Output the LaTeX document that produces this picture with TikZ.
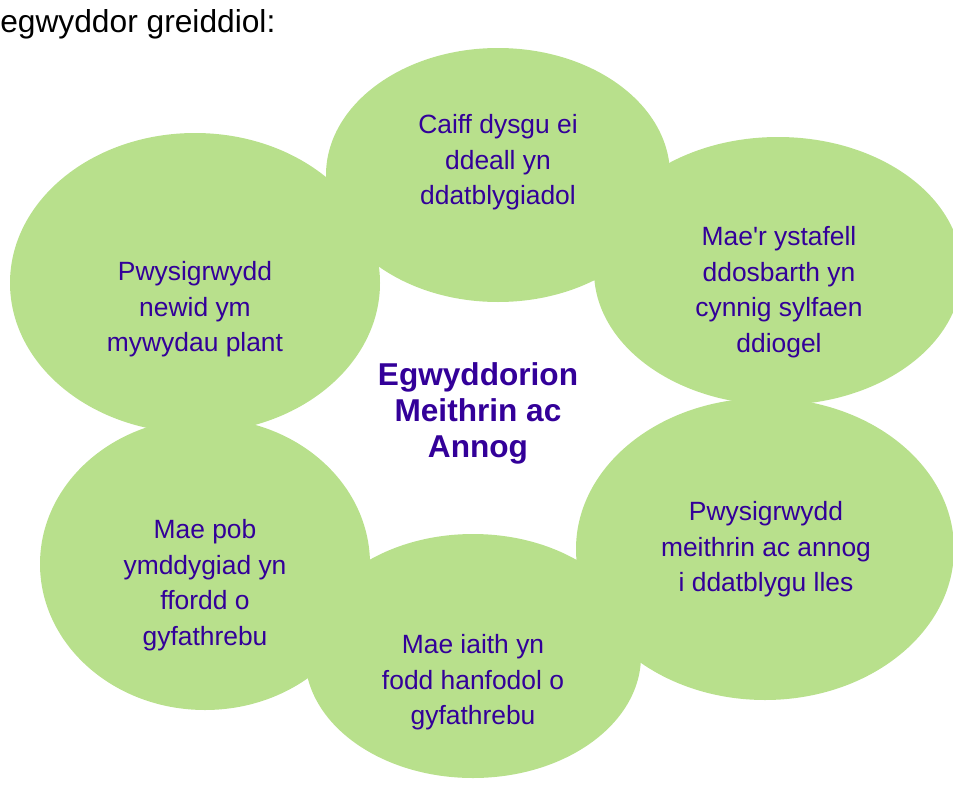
\documentclass[tikz,border=0pt]{standalone}
\usepackage{fontspec}
\setmainfont{Liberation Sans}
\usetikzlibrary{shapes.geometric,positioning}
\definecolor{Leaf}{HTML}{B8E08C}
\definecolor{Ink}{HTML}{330099}
\tikzset{
  petal/.style={ellipse,fill=Leaf,draw=none,inner sep=0pt},
  petaltext/.style={align=center,text=Ink,inner sep=0pt,font=\fontsize{19.8}{26.7}\selectfont},
  hubtext/.style={align=center,text=Ink,inner sep=0pt,font=\fontsize{23.7}{27}\selectfont\bfseries},
  headtext/.style={anchor=base west,inner sep=0pt,text=black,font=\fontsize{23.8}{28}\selectfont}
}

\begin{document}
\begin{tikzpicture}[x=0.75pt,y=-0.75pt]
  \useasboundingbox (0,0) rectangle (953,785);
  \node[headtext] (heading) at (0,32) {egwyddor greiddiol:};

  % the six petals
  \node[petal,minimum width=258pt,minimum height=190.5pt] (caiff) at (498,175) {};
  \node[petal,minimum width=276pt,minimum height=201pt] (ystafell) at (778,271) {};
  \node[petal,minimum width=283.5pt,minimum height=226.5pt] (lles) at (765,549) {};
  \node[petal,minimum width=252pt,minimum height=183pt] (iaith) at (473,656) {};
  \node[petal,minimum width=247.5pt,minimum height=219pt] (ymddygiad) at (205,564) {};
  \node[petal,minimum width=277.5pt,minimum height=225pt] (newid) at (195,283) {};

  % texts on the petals
  \node[petaltext] (caiff-txt) at ([yshift=9.5pt]caiff) {Caiff dysgu ei\\ddeall yn\\ddatblygiadol};
  \node[petaltext] (ystafell-txt) at ([xshift=0.75pt,yshift=-16pt]ystafell) {Mae\textquotesingle r ystafell\\ddosbarth yn\\cynnig sylfaen\\ddiogel};
  \node[petaltext] (lles-txt) at ([xshift=0.75pt,yshift=-0.3pt]lles) {Pwysigrwydd\\meithrin ac annog\\i ddatblygu lles};
  \node[petaltext] (iaith-txt) at ([yshift=-19.9pt]iaith) {Mae iaith yn\\fodd hanfodol o\\gyfathrebu};
  \node[petaltext] (ymddygiad-txt) at ([yshift=-15.8pt]ymddygiad) {Mae pob\\ymddygiad yn\\ffordd o\\gyfathrebu};
  \node[petaltext] (newid-txt) at ([yshift=-19.8pt]newid) {Pwysigrwydd\\newid ym\\mywydau plant};

  \node[hubtext] (hub) at (478,413.5) {Egwyddorion\\Meithrin ac\\Annog};
\end{tikzpicture}
\end{document}
